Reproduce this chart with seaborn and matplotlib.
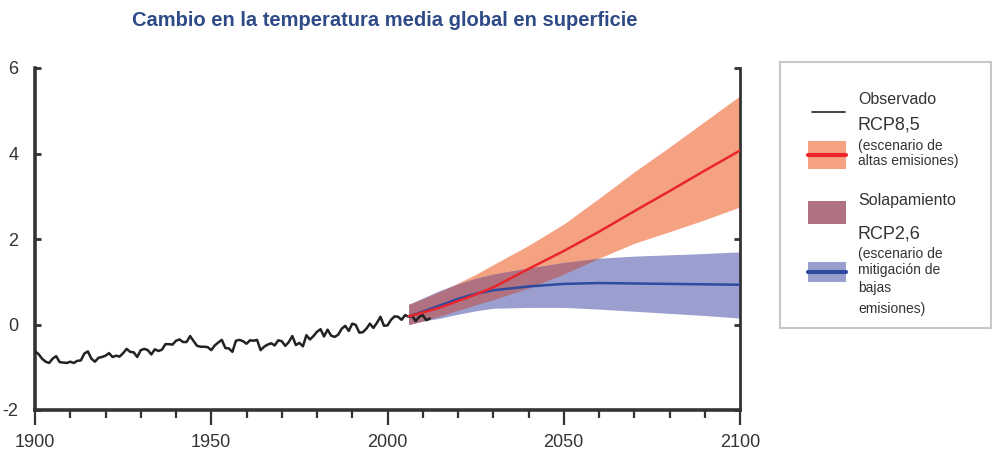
import numpy as np
import matplotlib.pyplot as plt
import seaborn as sns
from matplotlib.patches import Rectangle

# Observed global mean surface temperature change (relative to 1986-2005)
obs_years = list(range(1900, 2013))
obs_temp = [-0.63, -0.69, -0.80, -0.87, -0.90, -0.80, -0.74, -0.88, -0.89, -0.90,
            -0.87, -0.90, -0.85, -0.84, -0.68, -0.63, -0.80, -0.87, -0.78, -0.76,
            -0.73, -0.67, -0.76, -0.73, -0.75, -0.67, -0.57, -0.64, -0.65, -0.76,
            -0.60, -0.57, -0.60, -0.70, -0.58, -0.62, -0.59, -0.46, -0.46, -0.47,
            -0.38, -0.35, -0.41, -0.41, -0.27, -0.39, -0.50, -0.52, -0.52, -0.53,
            -0.60, -0.49, -0.42, -0.36, -0.55, -0.56, -0.64, -0.38, -0.36, -0.39,
            -0.45, -0.37, -0.38, -0.36, -0.60, -0.52, -0.47, -0.44, -0.49, -0.37,
            -0.39, -0.50, -0.41, -0.27, -0.48, -0.43, -0.51, -0.25, -0.35, -0.27,
            -0.17, -0.11, -0.28, -0.12, -0.26, -0.29, -0.24, -0.10, -0.03, -0.15,
            0.02, -0.01, -0.19, -0.18, -0.10, 0.02, -0.08, 0.04, 0.18, -0.03,
            -0.02, 0.11, 0.19, 0.18, 0.11, 0.22, 0.18, 0.20, 0.08, 0.18,
            0.22, 0.10, 0.14]

# Projections 2006-2100
proj_years = [2006, 2010, 2015, 2020, 2025, 2030, 2040, 2050, 2060, 2070, 2080, 2090, 2100]
rcp85_mean = [0.19, 0.28, 0.40, 0.55, 0.70, 0.87, 1.30, 1.72, 2.17, 2.65, 3.12, 3.60, 4.07]
rcp85_low = [0.00, 0.08, 0.20, 0.33, 0.46, 0.58, 0.85, 1.18, 1.55, 1.90, 2.17, 2.45, 2.75]
rcp85_high = [0.47, 0.60, 0.78, 0.97, 1.17, 1.40, 1.85, 2.35, 2.95, 3.57, 4.15, 4.75, 5.35]
rcp26_mean = [0.19, 0.30, 0.45, 0.60, 0.72, 0.80, 0.89, 0.95, 0.97, 0.96, 0.95, 0.94, 0.93]
rcp26_low = [0.00, 0.08, 0.15, 0.24, 0.32, 0.38, 0.40, 0.40, 0.36, 0.31, 0.26, 0.21, 0.15]
rcp26_high = [0.47, 0.62, 0.80, 0.95, 1.08, 1.18, 1.32, 1.45, 1.55, 1.60, 1.63, 1.66, 1.70]

c_obs = "#222222"
c_red_band = "#F5A282"
c_red_line = "#E8262B"
c_blue_band = "#9B9FCF"
c_blue_line = "#2E4A9E"
c_overlap = "#B07280"
c_text = "#333333"

sns.set_style("ticks")
plt.rcParams["font.family"] = ["Liberation Sans", "DejaVu Sans"]
plt.rcParams["axes.unicode_minus"] = False

fig = plt.figure(figsize=(9.92, 4.53), dpi=100)
ax = fig.add_axes([35 / 992, 43 / 453, 705 / 992, 342 / 453])

# bands
ax.fill_between(proj_years, rcp85_low, rcp85_high, color=c_red_band, lw=0, zorder=1)
ax.fill_between(proj_years, rcp26_low, rcp26_high, color=c_blue_band, lw=0, zorder=1)
ov_low = np.maximum(rcp85_low, rcp26_low)
ov_high = np.minimum(rcp85_high, rcp26_high)
ax.fill_between(proj_years, ov_low, ov_high, where=ov_high > ov_low,
                interpolate=True, color=c_overlap, lw=0, zorder=2)

# lines
sns.lineplot(x=obs_years, y=obs_temp, color=c_obs, lw=1.8, ax=ax, zorder=3)
sns.lineplot(x=proj_years, y=rcp26_mean, color=c_blue_line, lw=1.8, ax=ax, zorder=4)
sns.lineplot(x=proj_years, y=rcp85_mean, color=c_red_line, lw=1.8, ax=ax, zorder=5)

ax.set_xlim(1900, 2100)
ax.set_ylim(-2, 6)
ax.set_yticks([-2, 0, 2, 4, 6])
ax.set_xticks([1900, 1950, 2000, 2050, 2100])
ax.set_xticks(range(1910, 2100, 10), minor=True)

ax.tick_params(axis="y", direction="in", length=4, width=2, colors="#333333",
               labelsize=13, pad=12, right=True)
ax.tick_params(axis="x", which="major", direction="out", length=11, width=1.6,
               colors="#333333", labelsize=13, pad=6)
ax.tick_params(axis="x", which="minor", direction="out", length=6, width=1.6,
               colors="#333333")
ax.spines["top"].set_visible(False)
for s in ["left", "bottom"]:
    ax.spines[s].set_linewidth(2.6)
    ax.spines[s].set_color("#333333")
ax.spines["right"].set_linewidth(2)
ax.spines["right"].set_color("#333333")
ax.set_xlabel("")
ax.set_ylabel("")

fig.text(385 / 992, 1 - 21 / 453, "Cambio en la temperatura media global en superficie",
         ha="center", va="center", fontsize=14.5, fontweight="bold", color="#2E4A87")

# legend panel (pixel coordinates inside the box)
lg = fig.add_axes([780 / 992, (453 - 328) / 453, 211 / 992, 266 / 453])
lg.set_xlim(780, 991)
lg.set_ylim(328, 62)
lg.set_xticks([])
lg.set_yticks([])
for s in lg.spines.values():
    s.set_color("#C8C8C8")
    s.set_linewidth(1.5)

lg.plot([812, 845], [112, 112], color=c_obs, lw=1.2)
lg.text(858, 100, "Observado", fontsize=11.5, color=c_text, va="center")

lg.text(858, 125, "RCP8,5", fontsize=13, color=c_text, va="center")
lg.text(858, 146, "(escenario de", fontsize=10, color=c_text, va="center")
lg.text(858, 161, "altas emisiones)", fontsize=10, color=c_text, va="center")
lg.add_patch(Rectangle((808, 141), 38, 28, color=c_red_band, lw=0))
lg.plot([808, 846], [155, 155], color=c_red_line, lw=3)

lg.text(858, 201, "Solapamiento", fontsize=11.5, color=c_text, va="center")
lg.add_patch(Rectangle((808, 201), 38, 23, color=c_overlap, lw=0))

lg.text(858, 234, "RCP2,6", fontsize=13, color=c_text, va="center")
lg.text(858, 254, "(escenario de", fontsize=10, color=c_text, va="center")
lg.text(858, 270, "mitigación de", fontsize=10, color=c_text, va="center")
lg.text(858, 288, "bajas", fontsize=10, color=c_text, va="center")
lg.text(858, 309, "emisiones)", fontsize=10, color=c_text, va="center")
lg.add_patch(Rectangle((808, 262), 38, 20, color=c_blue_band, lw=0))
lg.plot([808, 846], [272, 272], color=c_blue_line, lw=3)

fig.savefig("out.png", dpi=100)
